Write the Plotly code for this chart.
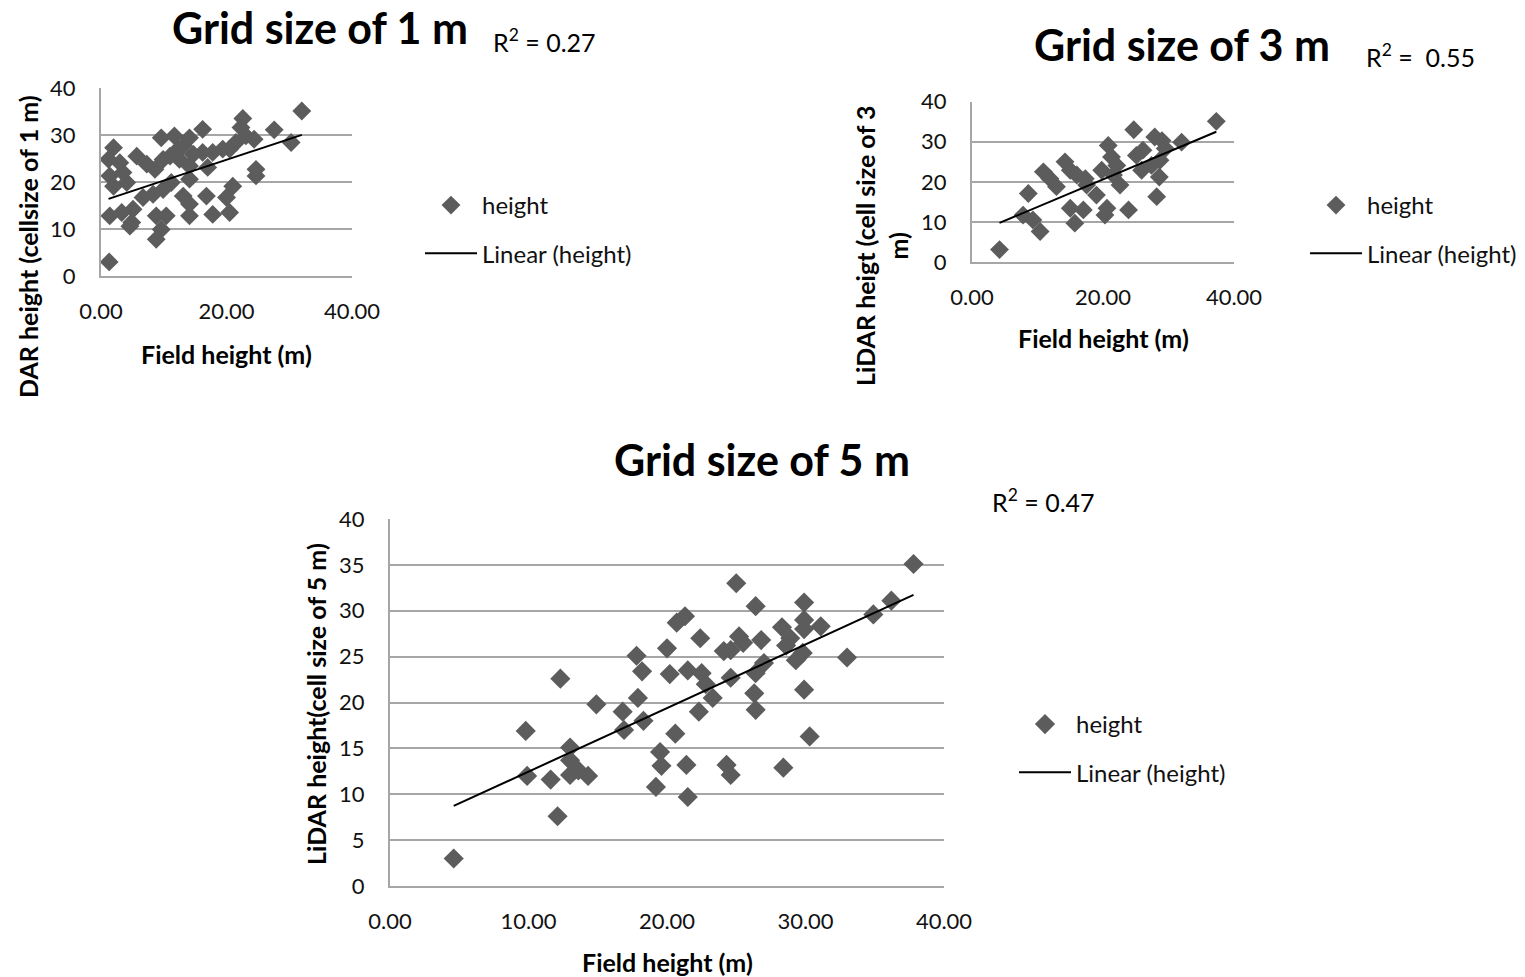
import numpy as np
import plotly.graph_objects as go

# ---------------- data ----------------
# Grid size of 1 m
field_1m = [1.3, 32.0, 30.3, 27.6, 22.6, 22.3, 23.1, 24.4, 24.7, 24.7, 21.5, 20.5, 19.4, 21.0,
            20.0, 20.5, 17.8, 16.8, 16.2, 14.1, 16.2, 17.8, 17.0, 14.1, 14.7, 13.1, 12.3, 11.7,
            9.6, 11.0, 12.5, 9.9, 8.6, 7.3, 5.7, 14.1, 13.1, 14.1, 14.1, 11.2, 9.9, 8.3, 6.7,
            5.1, 4.9, 2.0, 1.2, 3.0, 1.4, 2.0, 3.5, 4.1, 1.4, 3.3, 8.8, 10.4, 9.6, 8.8, 4.6]
lidar_1m = [3.0, 35.1, 28.4, 31.1, 33.5, 31.6, 29.8, 29.1, 22.7, 21.3, 28.4, 27.0, 27.0, 19.1,
            16.7, 13.5, 13.1, 17.0, 31.2, 29.4, 26.3, 26.3, 23.1, 23.4, 25.9, 27.7, 27.0, 29.8,
            29.4, 25.5, 24.8, 24.8, 22.7, 23.8, 25.5, 20.6, 17.0, 15.3, 12.8, 19.9, 18.4, 17.4, 16.7,
            14.2, 11.4, 27.3, 24.8, 24.1, 21.3, 19.1, 22.0, 19.9, 12.8, 13.5, 12.8, 12.8, 9.9, 7.8, 10.6]

# Grid size of 3 m
field_3m = [4.2, 37.3, 7.8, 8.6, 10.4, 9.3, 10.9, 11.9, 12.9, 14.2, 15.0, 16.0, 17.3, 17.5,
            15.0, 15.7, 17.0, 19.0, 20.6, 20.3, 19.8, 20.8, 21.3, 22.1, 21.6, 22.6, 23.9, 24.7,
            25.1, 25.9, 26.1, 27.9, 29.0, 29.5, 28.7, 28.6, 28.2, 32.0, 27.4]
lidar_3m = [3.1, 35.1, 11.7, 17.1, 7.6, 10.5, 22.5, 20.8, 18.8, 25.0, 22.9, 21.7, 20.8, 19.2,
            13.4, 9.7, 13.0, 16.7, 13.4, 11.7, 22.9, 29.1, 26.2, 24.1, 21.7, 19.2, 13.0, 33.0,
            26.6, 22.9, 27.9, 31.2, 30.3, 28.3, 25.4, 21.2, 16.3, 29.9, 24.1]

# Grid size of 5 m
field_5m = [4.6, 9.8, 9.9, 11.6, 12.3, 12.1, 13.0, 13.0, 13.0, 13.6, 14.3, 14.9, 16.8, 16.9,
            17.8, 18.2, 17.9, 18.3, 19.2, 19.5, 19.6, 20.0, 20.2, 20.6, 20.7, 21.3, 21.4, 21.5,
            21.5, 22.4, 22.5, 22.8, 22.3, 23.3, 24.1, 24.6, 24.6, 24.3, 24.6, 25.0, 25.2, 25.5,
            26.4, 26.3, 26.4, 26.4, 26.8, 27.0, 28.4, 28.3, 28.9, 28.6, 29.3, 29.9, 29.9, 29.9,
            29.8, 29.9, 30.3, 31.1, 33.0, 34.9, 36.2, 37.8]
lidar_5m = [3.0, 16.9, 12.0, 11.6, 22.6, 7.6, 15.1, 13.7, 12.1, 12.6, 12.0, 19.8, 19.0, 17.0,
            25.1, 23.4, 20.5, 18.0, 10.8, 14.6, 13.1, 25.9, 23.1, 16.6, 28.7, 29.4, 13.2, 9.7,
            23.5, 27.0, 23.2, 22.0, 19.0, 20.5, 25.6, 25.7, 22.7, 13.2, 12.1, 33.0, 27.2, 26.5,
            30.5, 21.0, 23.2, 19.2, 26.8, 24.3, 12.9, 28.2, 27.0, 26.2, 24.6, 30.9, 29.0, 28.0,
            25.4, 21.4, 16.3, 28.3, 24.9, 29.6, 31.1, 35.1]

titles = ["Grid size of 1 m", "Grid size of 3 m", "Grid size of 5 m"]
r2_labels = ["R<sup>2</sup> = 0.27", "R<sup>2</sup> =  0.55", "R<sup>2</sup> = 0.47"]
y_titles = ["DAR height (cellsize of 1 m)", "LiDAR heigt (cell size of 3<br>m)",
            "LiDAR height(cell size of 5 m)"]
x_title = "Field height (m)"
series_name = "height"
trend_name = "Linear (height)"

# ---------------- styling ----------------
FONT = "Lato, Open Sans, sans-serif"
MARKER_COLOR = "#5c5c5c"
GRID = "#a6a6a6"
TXT = "#111111"
W, H = 1525, 977

def px_x(p):
    return p / W

def px_y(p):
    return 1 - p / H

panels = [
    dict(x=field_1m, y=lidar_1m, xd=(101, 352), yd=(88, 276), dtick_x=20, dtick_y=10, msize=14.5,
         legend="legend", leg_pos=(420, 183)),
    dict(x=field_3m, y=lidar_3m, xd=(972, 1234), yd=(101.7, 262), dtick_x=20, dtick_y=10, msize=14.5,
         legend="legend2", leg_pos=(1305, 183)),
    dict(x=field_5m, y=lidar_5m, xd=(390, 944), yd=(519, 886), dtick_x=10, dtick_y=5, msize=15.5,
         legend="legend3", leg_pos=(1014, 702)),
]

fig = go.Figure()
layout = dict(
    width=W, height=H, margin=dict(l=0, r=0, t=0, b=0, autoexpand=False),
    paper_bgcolor="white", plot_bgcolor="white",
    font=dict(family=FONT, size=22, color=TXT),
    annotations=[],
)

for i, p in enumerate(panels):
    sfx = "" if i == 0 else str(i + 1)
    xa, ya = "x" + sfx, "y" + sfx
    xs = np.array(p["x"])
    ys = np.array(p["y"])
    fig.add_trace(go.Scatter(
        x=xs, y=ys, mode="markers", name=series_name, xaxis=xa, yaxis=ya,
        marker=dict(symbol="diamond", size=p["msize"], color=MARKER_COLOR),
        legend=p["legend"], legendgroup=f"pts{i}",
    ))
    slope, intercept = np.polyfit(xs, ys, 1)
    lx = np.array([xs.min(), xs.max()])
    fig.add_trace(go.Scatter(
        x=lx, y=slope * lx + intercept, mode="lines", name=trend_name, xaxis=xa, yaxis=ya,
        line=dict(color="black", width=2), legend=p["legend"], legendgroup=f"trend{i}",
    ))
    layout["xaxis" + sfx] = dict(
        domain=[px_x(p["xd"][0]), px_x(p["xd"][1])], anchor=ya, range=[0, 40],
        dtick=p["dtick_x"], tick0=0, tickformat=".2f", showgrid=False, zeroline=False,
        showline=True, linecolor=GRID, linewidth=2, ticks="", ticklabelstandoff=15,
        automargin=False, tickfont=dict(size=22, family=FONT, color=TXT),
    )
    layout["yaxis" + sfx] = dict(
        domain=[px_y(p["yd"][1]), px_y(p["yd"][0])], anchor=xa, range=[0, 40],
        dtick=p["dtick_y"], tick0=0, showgrid=True, gridcolor=GRID, gridwidth=2,
        zeroline=False, showline=True, linecolor=GRID, linewidth=2, ticks="",
        ticklabelstandoff=19, automargin=False, tickfont=dict(size=22, family=FONT, color=TXT),
    )
    layout[p["legend"]] = dict(
        x=px_x(p["leg_pos"][0]), y=px_y(p["leg_pos"][1]), xanchor="left", yanchor="top",
        font=dict(size=24, family=FONT, color=TXT), tracegroupgap=14,
        bgcolor="rgba(0,0,0,0)", itemwidth=52,
    )

# titles, R^2 labels, axis titles
title_pos = [(320, 28), (1182, 44), (762, 459)]
r2_pos = [(544, 40), (1420, 55), (1043, 500)]
xt_pos = [(226, 354), (1103, 338), (667, 962)]
yt_pos = [(28, 247), (881, 246), (316, 704)]
for i in range(3):
    layout["annotations"].append(dict(
        text=f"<b>{titles[i]}</b>", x=px_x(title_pos[i][0]), y=px_y(title_pos[i][1]),
        xref="paper", yref="paper", showarrow=False, font=dict(size=43, family=FONT, color="black"),
        xanchor="center", yanchor="middle"))
    layout["annotations"].append(dict(
        text=r2_labels[i], x=px_x(r2_pos[i][0]), y=px_y(r2_pos[i][1]),
        xref="paper", yref="paper", showarrow=False, font=dict(size=25, family=FONT, color="black"),
        xanchor="center", yanchor="middle"))
    layout["annotations"].append(dict(
        text=f"<b>{x_title}</b>", x=px_x(xt_pos[i][0]), y=px_y(xt_pos[i][1]),
        xref="paper", yref="paper", showarrow=False, font=dict(size=25, family=FONT, color="black"),
        xanchor="center", yanchor="middle"))
    layout["annotations"].append(dict(
        text=f"<b>{y_titles[i]}</b>", x=px_x(yt_pos[i][0]), y=px_y(yt_pos[i][1]),
        xref="paper", yref="paper", showarrow=False, textangle=-90,
        font=dict(size=25, family=FONT, color="black"),
        xanchor="center", yanchor="middle"))

fig.update_layout(**layout)
fig.write_html("out.html")
